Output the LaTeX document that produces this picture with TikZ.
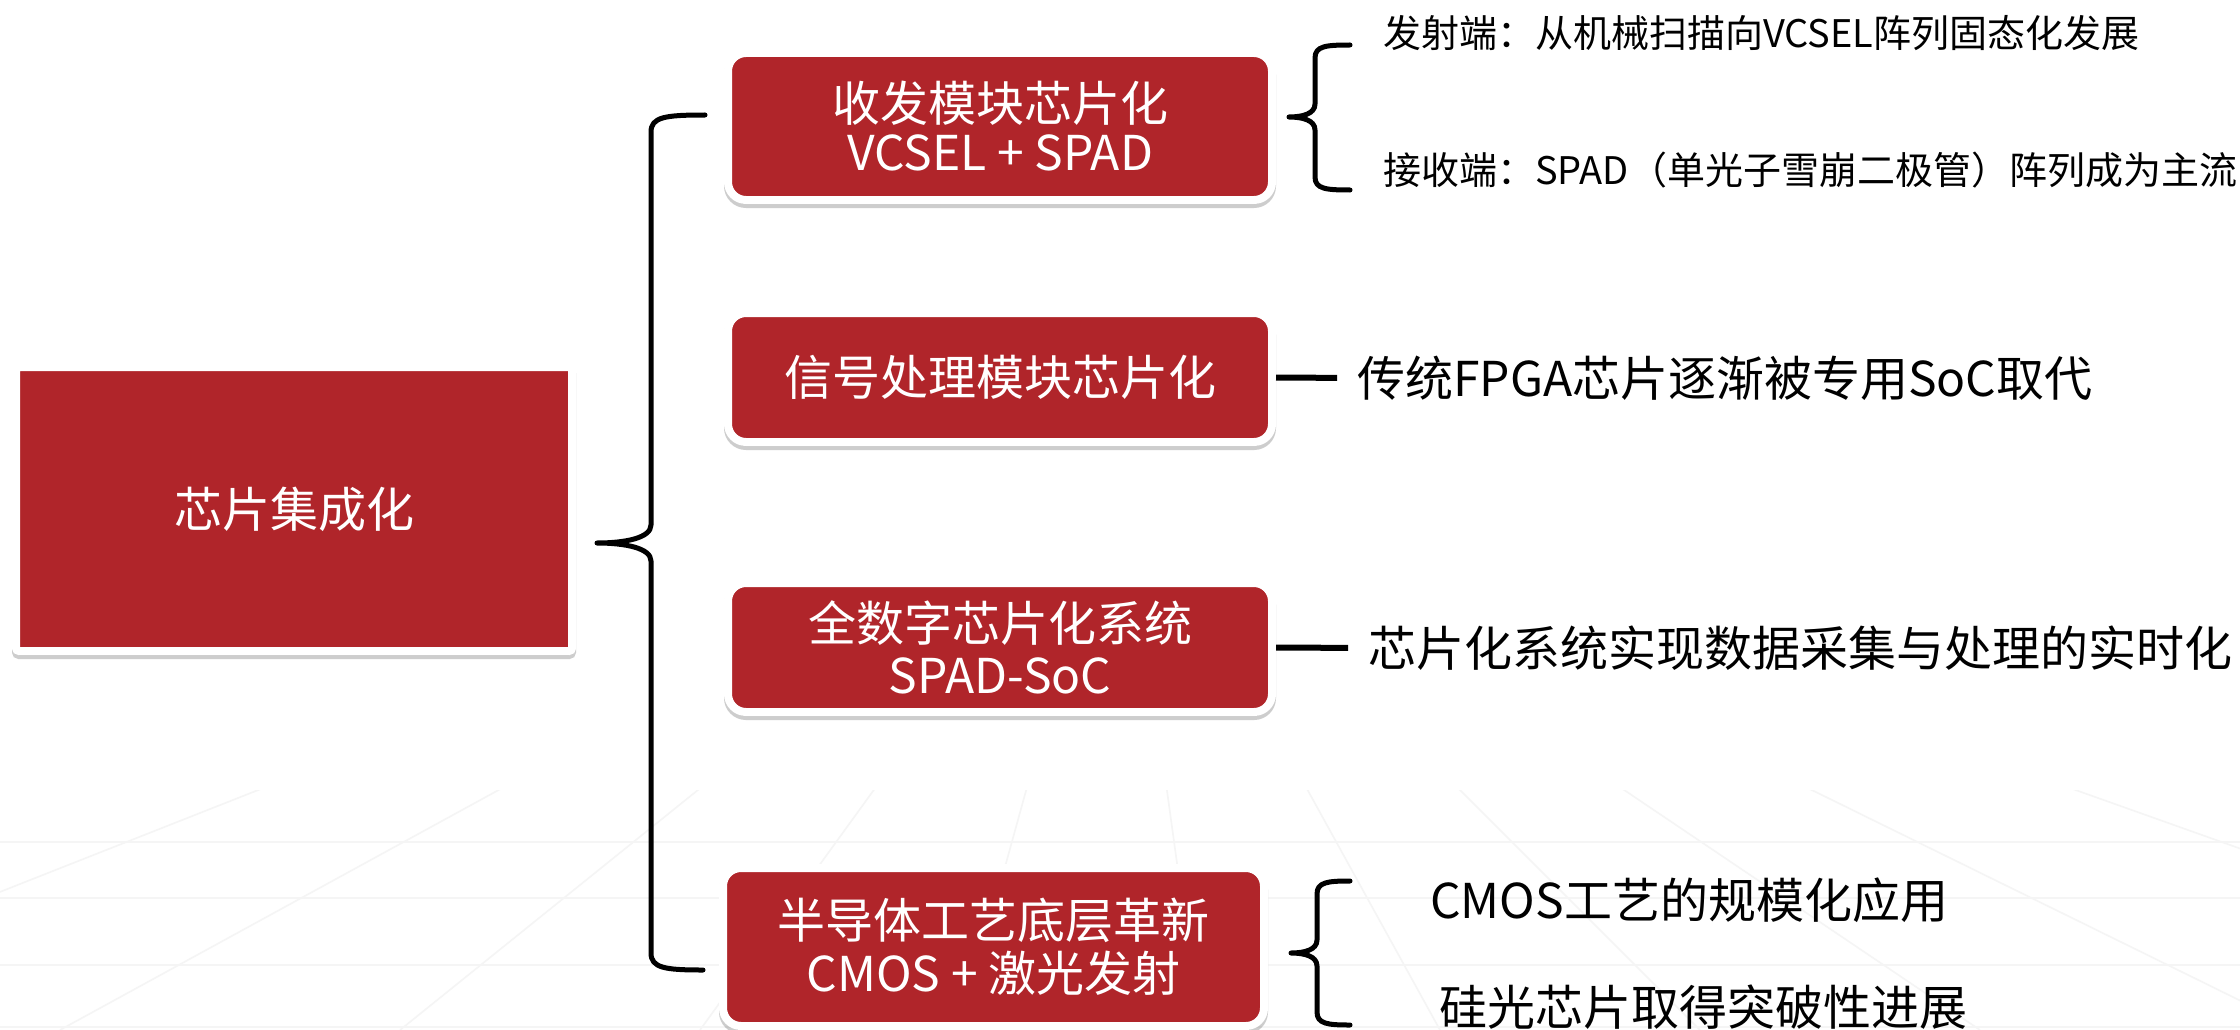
\documentclass[tikz,border=0pt]{standalone}
\usepackage{fontspec}
\newfontfamily\cjk{Noto Sans CJK SC}
\usetikzlibrary{shadows,calc}
\definecolor{boxred}{RGB}{176,37,42}
\begin{document}
\begin{tikzpicture}[x=1pt,y=-1pt,
  redbox/.style={fill=boxred, draw=white, line width=8pt, rounded corners=18pt,
    inner sep=0pt, outer sep=4pt, text=white, align=center,
    font=\cjk\fontsize{48}{51}\selectfont,
    drop shadow={shadow xshift=0pt, shadow yshift=-4pt, opacity=0.28,
      fill=black!70, draw=black!70, line width=8pt}},
  bracepath/.style={line width=5pt, line cap=round, line join=round},
  conn/.style={line width=6pt},
  bigtext/.style={font=\cjk\fontsize{48}{52}\selectfont, anchor=west, inner sep=0pt},
  smalltext/.style={font=\cjk\fontsize{38}{42}\selectfont, anchor=west, inner sep=0pt},
  gridline/.style={draw=black!4, line width=1.6pt}]
\useasboundingbox[fill=white] (0,0) rectangle (2240,1030);

% faint perspective floor
\begin{scope}
  \clip (0,790) rectangle (2240,1030);
  \foreach \bx in {-900,-350,60,400,700,960,1200,1440,1700,1980,2300,2750,3300}
    \draw[gridline] (1120,450) -- (\bx,1030);
  \foreach \hy in {842,898,965,1027}
    \draw[gridline] (0,\hy) -- (2240,\hy);
\end{scope}

% boxes
\node[redbox, rounded corners=3pt, minimum width=556pt, minimum height=284pt] (root) at (294,509) {芯片集成化};
\node[redbox, minimum width=544pt, minimum height=147pt, font=\cjk\fontsize{48}{49}\selectfont] (b1) at (1000,126.5) {收发模块芯片化\\VCSEL + SPAD};
\node[redbox, minimum width=544pt, minimum height=129pt] (b2) at (1000,377.5) {信号处理模块芯片化};
\node[redbox, minimum width=544pt, minimum height=129pt, font=\cjk\fontsize{48}{52}\selectfont] (b3) at (1000,647.5) {全数字芯片化系统\\SPAD-SoC};
\node[redbox, minimum width=541pt, minimum height=158pt, font=\cjk\fontsize{48}{53}\selectfont] (b4) at (993.5,947) {半导体工艺底层革新\\CMOS + 激光发射};

% texts
\node[smalltext] (t1) at (1383,33) {发射端：从机械扫描向VCSEL阵列固态化发展};
\node[smalltext] (t2) at (1383,170) {接收端：SPAD（单光子雪崩二极管）阵列成为主流};
\node[bigtext] (t3) at (1357,378) {传统FPGA芯片逐渐被专用SoC取代};
\node[bigtext] (t4) at (1368,648) {芯片化系统实现数据采集与处理的实时化};
\node[bigtext] (t5) at (1430,900) {CMOS工艺的规模化应用};
\node[bigtext] (t6) at (1439,1007) {硅光芯片取得突破性进展};

% connectors
\draw[conn, shorten >=20pt] (b2.east) -- (t3.west);
\draw[conn, shorten >=20pt] (b3.east) -- (t4.west);

% main brace
\coordinate (mTop) at (705,115);
\coordinate (mTip) at (597,543);
\coordinate (mBot) at (703,970);
\draw[bracepath] (mTop) .. controls (665,115) and (651,117) .. (651,132)
  -- (651,525) .. controls (651,538) and (625,543) .. (mTip)
  .. controls (625,543) and (651,548) .. (651,561)
  -- (651,953) .. controls (651,968) and (665,970) .. (mBot);

% upper right brace
\coordinate (uTop) at (1350,45);
\coordinate (uTip) at (1289,117);
\coordinate (uBot) at (1350,190);
\draw[bracepath] (uTop) .. controls (1326,45) and (1315,46) .. (1315,58)
  -- (1315,104) .. controls (1315,114) and (1302,117) .. (uTip)
  .. controls (1302,117) and (1315,120) .. (1315,130)
  -- (1315,177) .. controls (1315,189) and (1326,190) .. (uBot);

% lower right brace
\coordinate (lTop) at (1350,881);
\coordinate (lTip) at (1291,953);
\coordinate (lBot) at (1350,1025);
\draw[bracepath] (lTop) .. controls (1328,881) and (1317,882) .. (1317,894)
  -- (1317,940) .. controls (1317,950) and (1304,953) .. (lTip)
  .. controls (1304,953) and (1317,956) .. (1317,966)
  -- (1317,1012) .. controls (1317,1024) and (1328,1025) .. (lBot);
\end{tikzpicture}
\end{document}
